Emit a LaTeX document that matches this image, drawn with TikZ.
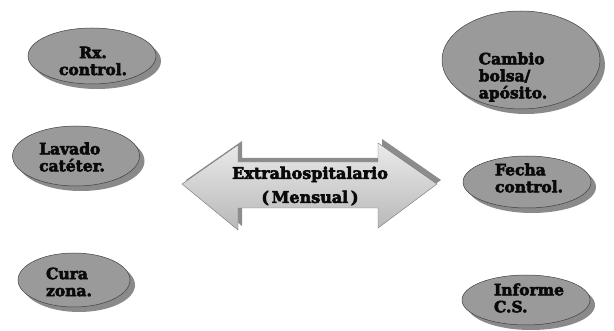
\documentclass[tikz,border=0pt]{standalone}
\usepackage{fontspec}
\setmainfont{DejaVu Serif}[BoldFeatures={FakeBold=3.5}]
\usetikzlibrary{shapes.geometric,shadows}
\definecolor{ellfill}{HTML}{9A9A9A}
\definecolor{ellshadow}{HTML}{8A8A8A}
\definecolor{txt}{HTML}{0A0A0A}
\tikzset{
  bubble/.style={ellipse, draw=black!75, line width=0.5pt, fill=ellfill, inner sep=0pt,
    drop shadow={shadow xshift=5pt, shadow yshift=-5pt, fill=ellshadow, opacity=1}},
  lbl/.style={font=\bfseries\fontsize{15.5}{17}\selectfont, text=txt, align=left, inner sep=0pt},
}
\begin{document}
\begin{tikzpicture}[x=1pt,y=-1pt]
\useasboundingbox (0,0) rectangle (614,331);
\fill[white] (0,0) rectangle (614,331);
% ellipses
\node[bubble, minimum width=128pt, minimum height=56pt] (rx) at (92,56) {};
\node[bubble, minimum width=127pt, minimum height=60pt] (lav) at (76,156) {};
\node[bubble, minimum width=112pt, minimum height=54pt] (cura) at (74,280) {};
\node[bubble, minimum width=158pt, minimum height=98pt] (camb) at (521,60) {};
\node[bubble, minimum width=128pt, minimum height=52pt] (fecha) at (527,182) {};
\node[bubble, minimum width=128pt, minimum height=50pt] (inf) at (526,300) {};
% texts
\node[lbl, align=center] (trx) at (93,61) {Rx.\\control.};
\node[lbl] (tlav) at (72,157) {Lavado\\catéter.};
\node[lbl] (tcura) at (69,282) {Cura\\zona.};
\node[lbl] (tcamb) at (513,77) {Cambio\\bolsa/\\apósito.};
\node[lbl] (tfecha) at (529,178) {Fecha\\control.};
\node[lbl] (tinf) at (529,298) {Informe\\C.S.};
% double arrow
\fill[black!45] ([xshift=4pt,yshift=4pt]182,184) -- ++(56,-39) -- ++(0,17) -- ++(140,0) -- ++(0,-19)
  -- ++(59,41) -- ++(-59,44) -- ++(0,-20) -- ++(-140,0) -- ++(0,22) -- cycle;
\shade[top color=black!8, bottom color=black!28, draw=black!55, line width=0.4pt]
  (182,184) -- (238,145) -- (238,162) -- (378,162) -- (378,143) -- (437,184)
  -- (378,228) -- (378,208) -- (238,208) -- (238,230) -- cycle;
\node[lbl, align=center, font=\bfseries\fontsize{16}{24}\selectfont] (tarr) at (310,186) {Extrahospitalario\\(\,Mensual\,)};
\end{tikzpicture}
\end{document}
